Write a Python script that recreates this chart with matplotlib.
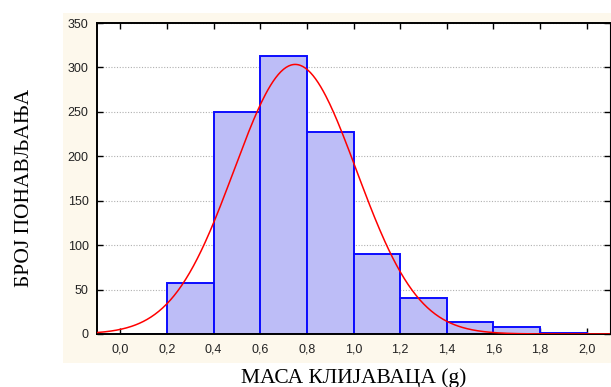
import numpy as np
import matplotlib.pyplot as plt
from matplotlib.patches import Rectangle

# histogram bins (left edges) and counts
bin_left = [0.0, 0.2, 0.4, 0.6, 0.8, 1.0, 1.2, 1.4, 1.6, 1.8]
counts = [0, 57, 250, 313, 227, 90, 40, 14, 8, 1]
bin_width = 0.2

# fitted normal curve parameters
fit_mean = 0.75
fit_sd = 0.263
n_total = 1000

xticks = [0.0, 0.2, 0.4, 0.6, 0.8, 1.0, 1.2, 1.4, 1.6, 1.8, 2.0]
yticks = [0, 50, 100, 150, 200, 250, 300, 350]

fig = plt.figure(figsize=(6.11, 3.87), dpi=100)

# cream panel behind the plot
fig.patches.append(Rectangle((63 / 611, 24 / 387), 548 / 611, 350 / 387,
                             transform=fig.transFigure, facecolor='#fdf8ec',
                             edgecolor='none', zorder=-5))

ax = fig.add_axes([97 / 611, 53 / 387, 513 / 611, 311 / 387])
ax.set_facecolor('white')

ax.bar(bin_left, counts, width=bin_width, align='edge',
       facecolor='#bdbdf7', edgecolor='#0c0cff', linewidth=1.4, zorder=2)

xs = np.linspace(-0.1, 2.1, 400)
ys = n_total * bin_width / (fit_sd * np.sqrt(2 * np.pi)) * np.exp(-0.5 * ((xs - fit_mean) / fit_sd) ** 2)
ax.plot(xs, ys, color='red', linewidth=1.1, zorder=3)

ax.set_xlim(-0.1, 2.1)
ax.set_ylim(0, 350)
ax.set_xticks(xticks)
ax.set_xticklabels([('%.1f' % t).replace('.', ',') for t in xticks])
ax.set_yticks(yticks)
ax.yaxis.grid(True, linestyle=(0, (1, 1.5)), color='#b0b0b0', linewidth=0.8, zorder=1)
ax.set_axisbelow(True)

ax.tick_params(direction='in', top=True, right=True, length=4, width=1,
               labelsize=9, colors='black')
ax.tick_params(axis='x', pad=7)
ax.tick_params(axis='y', pad=6)
for lab in ax.get_xticklabels() + ax.get_yticklabels():
    lab.set_fontfamily('Liberation Sans')
    lab.set_color('#222222')

for s in ax.spines.values():
    s.set_linewidth(1.4)
ax.spines['right'].set_linewidth(0.8)

ax.set_xlabel('МАСА КЛИЈАВАЦА (g)', fontfamily='Liberation Serif',
              fontsize=15.5, labelpad=9)
ax.set_ylabel('БРОЈ ПОНАВЉАЊА', fontfamily='Liberation Serif',
              fontsize=15.5)
ax.yaxis.set_label_coords(-0.123, 0.469)

fig.savefig('out.png', dpi=100)
